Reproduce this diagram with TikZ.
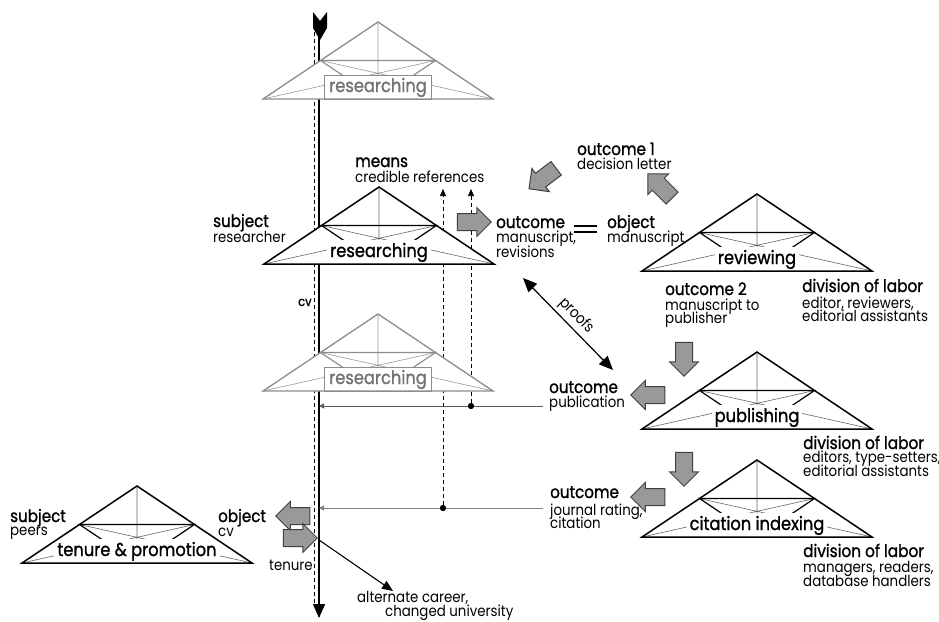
\documentclass[tikz,border=0pt]{standalone}
\usepackage{fontspec}
\setmainfont{Poppins}[FakeStretch=0.88]
\newfontfamily\medfam{Poppins}[FakeStretch=0.88, FakeBold=1.2]
\usetikzlibrary{arrows.meta,shapes.arrows}
\newcommand{\ttlfont}{\medfam\fontsize{17.2}{19}\selectfont}
\newcommand{\divfont}{\medfam\fontsize{17.4}{19}\selectfont}
\newcommand{\subfont}{\fontsize{15.2}{17}\selectfont}
\newcommand{\trifont}{\medfam\fontsize{18.5}{20}\selectfont}
\newcommand{\acttri}[5]{%
  \coordinate (#1A) at (#2,#3-77);
  \coordinate (#1L) at (#2-115,#3);
  \coordinate (#1R) at (#2+115,#3);
  \coordinate (#1B) at (#2,#3);
  \coordinate (#1ML) at (#2-57.5,#3-38.5);
  \coordinate (#1MR) at (#2+57.5,#3-38.5);
  \fill[white] (#1L) -- (#1A) -- (#1R) -- cycle;
  \draw[#5 med] (#1A) -- (#1B) (#1L) -- (#1MR) (#1R) -- (#1ML);
  \draw[#5 inner] (#1ML) -- (#1MR) -- (#1B) -- cycle;
  \node[#5 label] (#1lab) at (#2,#3-7) {#4};
  \draw[#5 outer] (#1L) -- (#1A) -- (#1R) -- cycle;
}
\tikzset{
  blk outer/.style={draw=black, line width=1.5pt, line join=miter},
  blk med/.style={draw=black!60, line width=0.6pt},
  blk inner/.style={draw=black, line width=1.2pt},
  blk label/.style={fill=white, inner xsep=3pt, inner ysep=3pt, anchor=base, font=\trifont},
  gry outer/.style={draw=black!45, line width=1.3pt, line join=miter},
  gry med/.style={draw=black!40, line width=0.6pt},
  gry inner/.style={draw=black!45, line width=1.1pt},
  gry label/.style={fill=white, draw=black!45, line width=1.3pt, text=black!55, inner xsep=5pt, inner ysep=2.5pt, anchor=base, font=\trifont},
  ttl/.style={anchor=base west, inner sep=0pt, font=\ttlfont},
  dvt/.style={anchor=base west, inner sep=0pt, font=\divfont},
  sub/.style={anchor=base west, inner sep=0pt, font=\subfont},
  barrow/.style={single arrow, draw=black!75, fill=black!40, line width=1pt, minimum height=34pt, inner xsep=0pt, inner ysep=8pt, single arrow head extend=6pt, single arrow head indent=0pt},
  dot/.style={circle, fill=black, inner sep=0pt, minimum size=6pt},
}
\begin{document}
\begin{tikzpicture}[x=1pt,y=-1pt]
\useasboundingbox (0,0) rectangle (939,621);
% timeline
\coordinate (tltop) at (319,36);
\coordinate (tlbot) at (319,618);
\coordinate (dltop) at (314,18);
\coordinate (dlbot) at (314,606);
\draw[dashed, line width=0.6pt, dash pattern=on 4pt off 3pt] (dltop) -- (dlbot);
\draw[line width=1.4pt, -{Triangle[length=14pt,width=12pt]}] (tltop) -- (tlbot);
\fill (313,12) -- (320,21) -- (327,12) -- (327,28) -- (320,40) -- (313,28) -- cycle;
% dots and dashed verticals
\node[dot] (dotA) at (471,406) {};
\node[dot] (dotB) at (443,508) {};
\coordinate (dashAtop) at (471,189);
\coordinate (dashBtop) at (443,189);
\draw[dashed, line width=0.6pt, dash pattern=on 4pt off 3pt, -{Triangle[length=7pt,width=6pt]}] (dotA) -- (dashAtop);
\draw[dashed, line width=0.6pt, dash pattern=on 4pt off 3pt, -{Triangle[length=7pt,width=6pt]}] (dotB) -- (dashBtop);
% horizontal lines
\coordinate (pubL) at (319,406);
\coordinate (pubR) at (543,406);
\coordinate (citL) at (319,508);
\coordinate (citR) at (543,508);
\draw[black!65, line width=1pt, {Triangle[length=5pt,width=5pt]}-] (pubL) -- (pubR);
\draw[black!50, line width=1pt, {Triangle[length=5pt,width=5pt]}-] (citL) -- (citR);
\node[dot] at (dotA) {};
\node[dot] at (dotB) {};
% triangles
\acttri{top}{378}{99}{researching}{gry}
\acttri{mid}{378}{391}{researching}{gry}
\acttri{main}{379}{264}{researching}{blk}
\acttri{rev}{757}{271}{reviewing}{blk}
\acttri{pub}{757}{429}{publishing}{blk}
\acttri{cit}{757}{537}{citation indexing}{blk}
\acttri{ten}{137}{563}{tenure \& promotion}{blk}
% block arrows
\node[barrow] (ba1) at (470,222) {};
\node[barrow, rotate=217] (ba2) at (546,176) {};
\node[barrow, rotate=135] (ba3) at (663,189) {};
\node[barrow, rotate=-90] (ba4) at (684,355) {};
\node[barrow, rotate=-90] (ba5) at (684,465) {};
\node[barrow, rotate=180] (ba6) at (652,395) {};
\node[barrow, rotate=180] (ba7) at (652,497) {};
\node[barrow, rotate=180] (ba8) at (297,516) {};
\node[barrow] (ba9) at (296,538) {};
% proofs
\coordinate (pr1) at (523,278);
\coordinate (pr2) at (613,370);
\draw[line width=1.2pt, {Triangle[length=14pt,width=12pt]}-{Triangle[length=14pt,width=12pt]}] (pr1) -- node[sloped, above=2pt, inner sep=1pt, font=\subfont] (prl) {proofs} (pr2);
% alternate career
\coordinate (ac1) at (319,540);
\coordinate (ac2) at (393,591);
\draw[line width=1.1pt, -{Triangle[length=11pt,width=9pt]}] (ac1) -- (ac2);
% equals
\coordinate (eq1) at (574,226);
\coordinate (eq2) at (597,226);
\coordinate (eq3) at (574,232);
\coordinate (eq4) at (597,232);
\draw[line width=1.4pt] (eq1) -- (eq2) (eq3) -- (eq4);
% texts
\node[ttl] (t1) at (355,167) {means};
\node[sub] (t2) at (355,182) {credible references};
\node[ttl] (t3) at (213,227) {subject};
\node[sub] (t4) at (213,242) {researcher};
\node[ttl] (t5) at (496,228) {outcome};
\node[sub] (t6) at (496,242) {manuscript,};
\node[sub] (t7) at (496,257) {revisions};
\node[ttl] (t8) at (607,228) {object};
\node[sub] (t9) at (607,242) {manuscript};
\node[ttl] (t10) at (577,155) {outcome 1};
\node[sub] (t11) at (577,169) {decision letter};
\node[ttl] (t12) at (665,295) {outcome 2};
\node[sub] (t13) at (665,310) {manuscript to};
\node[sub] (t14) at (665,323) {publisher};
\node[dvt] (t15) at (802,292) {division of labor};
\node[sub] (t16) at (802,308) {editor, reviewers,};
\node[sub] (t17) at (802,321) {editorial assistants};
\node[ttl] (t18) at (549,393) {outcome};
\node[sub] (t19) at (549,407) {publication};
\node[dvt] (t20) at (803,449) {division of labor};
\node[sub] (t21) at (803,462) {editors, type-setters,};
\node[sub] (t22) at (803,476) {editorial assistants};
\node[ttl] (t23) at (550,498) {outcome};
\node[sub] (t24) at (550,515) {journal rating,};
\node[sub] (t25) at (550,528) {citation};
\node[dvt] (t26) at (803,557) {division of labor};
\node[sub] (t27) at (803,572) {managers, readers,};
\node[sub] (t28) at (803,586) {database handlers};
\node[ttl] (t29) at (10,522) {subject};
\node[sub] (t30) at (10,535) {peers};
\node[ttl] (t31) at (218,522) {object};
\node[sub] (t32) at (218,536) {cv};
\node[sub] (t33) at (269,570) {tenure};
\node[sub] (t34) at (357,602) {alternate career,};
\node[sub] (t35) at (385,616) {changed university};
\node[sub, font=\medfam\fontsize{13}{14}\selectfont] (t36) at (298,306) {cv};
\end{tikzpicture}
\end{document}
